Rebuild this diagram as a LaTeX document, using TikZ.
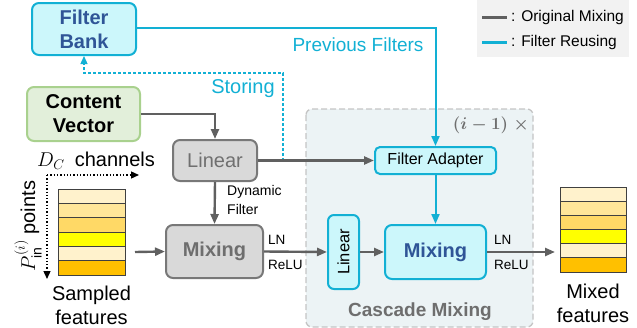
\RequirePackage{fix-cm}
\documentclass[tikz,border=0pt]{standalone}
\usepackage{fontspec}
\setmainfont{Liberation Sans}
\usepackage{amsmath}
\usetikzlibrary{arrows.meta,calc}

\definecolor{cyline}{RGB}{18,176,212}
\definecolor{cyfill}{RGB}{204,247,251}
\definecolor{navytext}{RGB}{47,85,151}
\definecolor{grline}{RGB}{96,96,96}
\definecolor{grfill}{RGB}{217,217,217}
\definecolor{grborder}{RGB}{120,120,120}
\definecolor{grtext}{RGB}{110,110,110}
\definecolor{gnfill}{RGB}{226,239,218}
\definecolor{gnborder}{RGB}{169,209,142}
\definecolor{cascfill}{RGB}{236,243,245}
\definecolor{cascborder}{RGB}{196,196,196}
\definecolor{legfill}{RGB}{242,242,242}
\definecolor{lyA}{RGB}{255,242,204}
\definecolor{lyB}{RGB}{255,230,153}
\definecolor{lyC}{RGB}{255,217,102}
\definecolor{lyD}{RGB}{255,255,0}
\definecolor{lyE}{RGB}{255,192,0}

\begin{document}
\begin{tikzpicture}[x=1pt,y=-1pt,
  tip/.style={-{Triangle[length=10pt,width=8pt]}},
  grarrow/.style={draw=grline,line width=2.4pt,tip},
  cyarrow/.style={draw=cyline,line width=2pt,tip},
  cydash/.style={draw=cyline,line width=1.3pt,dash pattern=on 3pt off 2pt,-{Triangle[length=8pt,width=7pt]}},
  cybox/.style={draw=cyline,fill=cyfill,line width=2pt,rounded corners=7pt,inner sep=0pt},
  grbox/.style={draw=grborder,fill=grfill,line width=2pt,rounded corners=7pt,inner sep=0pt},
  bigbold/.style={font=\fontsize{20}{24}\selectfont\bfseries,align=center},
  big/.style={font=\fontsize{20}{24}\selectfont,align=center},
  small/.style={font=\fontsize{14}{19}\selectfont,align=left},
  stackrow/.style={draw=black!75,line width=1pt},
  axis/.style={draw=black,line width=1.3pt,dotted,-{Triangle[length=8pt,width=7pt]}}
]
\useasboundingbox (0,0) rectangle (637,327);

% cascade region and legend background
\draw[cascborder,fill=cascfill,line width=1.3pt,dash pattern=on 6pt off 3pt,rounded corners=6pt]
  (306,109) rectangle (533,327);
\fill[legfill] (477,0) rectangle (629,57);

% legend
\coordinate (lgA1) at (482,17); \coordinate (lgA2) at (507,17);
\coordinate (lgB1) at (482,42); \coordinate (lgB2) at (507,42);
\draw[grline,line width=3pt] (lgA1) -- (lgA2);
\draw[cyline,line width=3pt] (lgB1) -- (lgB2);
\node[anchor=west,font=\fontsize{15.5}{18}\selectfont,inner sep=0pt] (lgA) at (511,17) {: Original Mixing};
\node[anchor=west,font=\fontsize{15.5}{18}\selectfont,inner sep=0pt] (lgB) at (511,42) {: Filter Reusing};

% boxes
\node[cybox,minimum width=104pt,minimum height=52pt,bigbold,text=navytext] (fb) at (84,29) {Filter\\Bank};
\node[draw=gnborder,fill=gnfill,line width=2pt,rounded corners=7pt,minimum width=113pt,minimum height=54pt,bigbold] (cv) at (83.5,114) {Content\\Vector};
\node[grbox,minimum width=84pt,minimum height=41pt,big,text=grline!90] (lin) at (215,160.5) {Linear};
\node[cybox,rounded corners=5pt,minimum width=121pt,minimum height=27pt,font=\fontsize{16}{19}\selectfont] (fa) at (435.5,160.5) {Filter Adapter};
\node[grbox,minimum width=97pt,minimum height=53pt,bigbold,text=grtext] (mixA) at (214.5,251.5) {Mixing};
\node[cybox,rounded corners=6pt,minimum width=31pt,minimum height=74pt] (linB) at (343.5,252) {};
\node[rotate=90,font=\fontsize{16.5}{19}\selectfont] (linBt) at (linB.center) {Linear};
\node[cybox,minimum width=101pt,minimum height=54pt,bigbold,text=navytext] (mixB) at (435.5,252) {Mixing};

% feature stacks
\foreach \c [count=\k from 0] in {lyA,lyB,lyC,lyD,lyA,lyE} {
  \draw[stackrow,fill=\c] (58,{189+\k*14.333}) rectangle (125,{189+(\k+1)*14.333});
  \draw[stackrow,fill=\c] (560,{187+\k*14.167}) rectangle (626,{187+(\k+1)*14.167});
}
\draw[stackrow] (58,189) rectangle (125,275);
\draw[stackrow] (560,187) rectangle (626,272);

% texts
\node[big] (sf) at (91.5,305) {Sampled\\features};
\node[big] (mf) at (593,303) {Mixed\\features};
\node[font=\fontsize{20}{24}\selectfont,anchor=west,inner sep=0pt] (dc) at (37,161) {$D_{C}$\enspace channels};
\node[font=\fontsize{20}{24}\selectfont,rotate=90,inner sep=0pt] (pin) at (28,226) {$P^{(i)}_{\mathrm{in}}$\ points};
\node[font=\fontsize{17}{19}\selectfont\boldmath,text=grtext,anchor=east,inner sep=0pt] (rep) at (529,125) {$(i-1)\;\times$};
\node[font=\fontsize{19}{22}\selectfont\bfseries,text=grtext] (casc) at (420,312) {Cascade Mixing};

% dotted axes
\coordinate (ax0) at (47,175);
\coordinate (axX) at (139,175);
\coordinate (axY) at (47,279);
\draw[axis] (ax0) -- (axX);
\draw[axis] (ax0) -- (axY);

% connectors: filter reusing path
\draw[cyarrow] (fb.east |- 0,28) -| (fa.north);
\node[font=\fontsize{19}{22}\selectfont,text=cyline] (pf) at (358,45) {Previous Filters};
\coordinate (stA) at (283,160.5);
\coordinate (stB) at (283,73);
\draw[cydash] (stA) -- (stB) -| (fb.south);
\node[font=\fontsize{20}{22}\selectfont,text=cyline] (st) at (243,88) {Storing};

% connectors: original mixing path
\draw[grarrow] (cv.east) -| (lin.north);
\draw[grarrow] (lin.east) -- (fa.west);
\draw[grarrow] (lin.south) -- (mixA.north);
\node[small,anchor=north west,inner sep=0pt] (df) at (227,185) {Dynamic\\Filter};
\coordinate (sfOut) at (135,252);
\draw[grarrow] (sfOut) -- (mixA.west);
\draw[grarrow] (mixA.east) -- (linB.west);
\node[font=\fontsize{13.5}{16}\selectfont,anchor=west,inner sep=0pt] (lnA) at (268,240) {LN};
\node[font=\fontsize{13.5}{16}\selectfont,anchor=west,inner sep=0pt] (reA) at (268,265) {ReLU};
\draw[grarrow] (linB.east) -- (mixB.west);
\draw[cyarrow] (fa.south) -- (mixB.north);
\coordinate (mfIn) at (555,252);
\draw[grarrow] (mixB.east) -- (mfIn);
\node[font=\fontsize{13.5}{16}\selectfont,anchor=west,inner sep=0pt] (lnB) at (494,240) {LN};
\node[font=\fontsize{13.5}{16}\selectfont,anchor=west,inner sep=0pt] (reB) at (494,265) {ReLU};
\end{tikzpicture}
\end{document}
